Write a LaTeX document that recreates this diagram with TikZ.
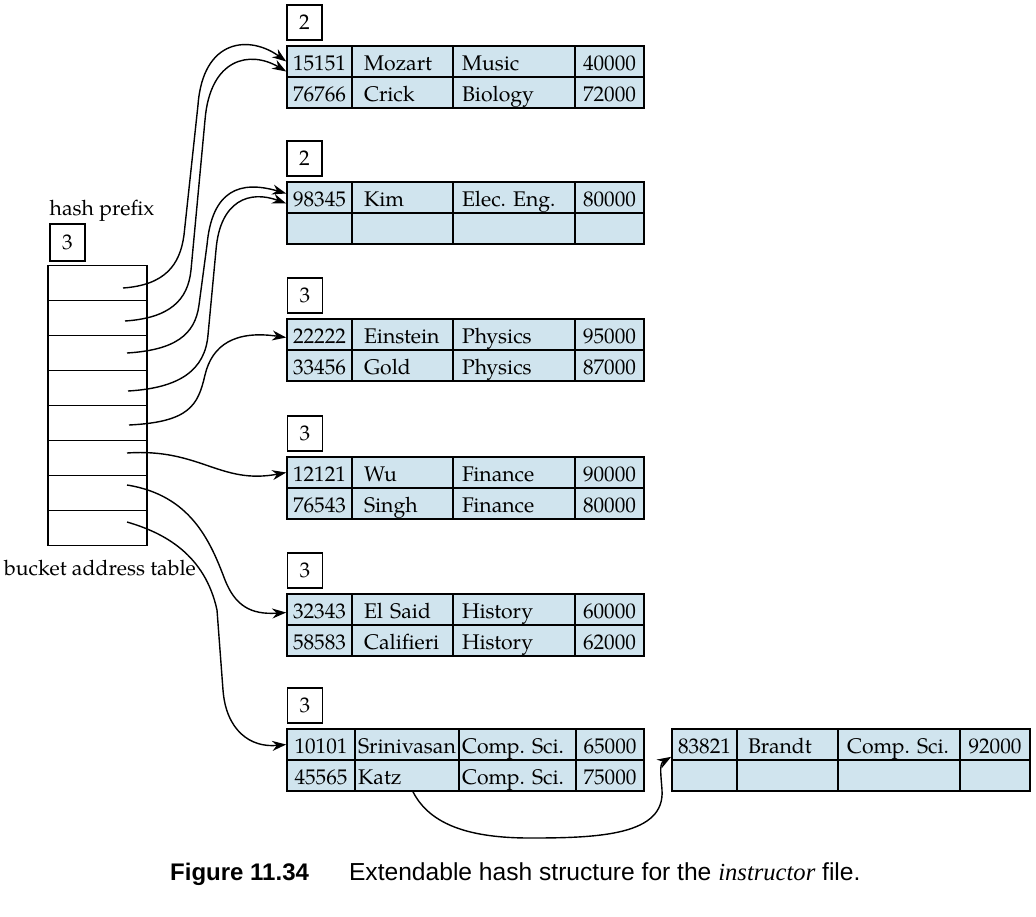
\documentclass[tikz,border=0pt]{standalone}
\usepackage{fontspec}
\setmainfont{TeX Gyre Pagella}
\newfontfamily\capsans{Liberation Sans}
\newfontfamily\capserif{Liberation Serif}
\usetikzlibrary{arrows.meta}
\definecolor{bucketblue}{RGB}{208,228,238}
\frenchspacing

\begin{document}
\begin{tikzpicture}[x=0.5pt, y=-0.5pt, >={Stealth[length=7pt,width=5pt]},
  every node/.style={font=\fontsize{10.6pt}{12pt}\selectfont},
  cell/.style={draw, line width=0.8pt, fill=bucketblue, minimum height=15.5pt, inner ysep=0pt, inner xsep=0pt, text height=9.5pt, text depth=1pt},
  numcell/.style={cell, minimum width=#1},
  txtcell/.style 2 args={cell, text width=#1, inner xsep=#2, align=left},
  depthbox/.style={draw, line width=0.8pt, minimum width=17.5pt, minimum height=17.5pt, inner sep=0pt},
  slot/.style={draw, line width=0.8pt, minimum width=49.5pt, minimum height=17.5pt, inner sep=0pt},
  ptr/.style={->, line width=0.7pt}]
\useasboundingbox (0,0) rectangle (1036,916);

% bucket address table
\node(hashlbl) at (102,211){hash prefix};
\node(prefix)[depthbox, minimum height=18.5pt] at (67.5,242.5){3};
\node(T1)[slot] at (97.5,283){};
\node(T2)[slot] at (97.5,318){};
\node(T3)[slot] at (97.5,353){};
\node(T4)[slot] at (97.5,388){};
\node(T5)[slot] at (97.5,423){};
\node(T6)[slot] at (97.5,458){};
\node(T7)[slot] at (97.5,493){};
\node(T8)[slot] at (97.5,528){};
\node(tbllbl) at (100,568){bucket address table};

\coordinate(p1) at (123,288);
\coordinate(p2) at (125,321);
\coordinate(p3) at (127,353);
\coordinate(p4) at (128,391);
\coordinate(p5) at (129,425);
\coordinate(p6) at (127,453);
\coordinate(p7) at (127,485);
\coordinate(p8) at (127,522);

% bucket 1
\node(D1)[depthbox] at (304.5,22.5){2};
\node(B1a)[numcell=32.5pt] at (319.5,61.5){15151};
\node(B1b)[txtcell={38.5pt}{6pt}] at (402.5,61.5){Mozart};
\node(B1c)[txtcell={52pt}{4.5pt}] at (514,61.5){Music};
\node(B1d)[numcell=34.5pt] at (609.5,61.5){40000};
\node(B1e)[numcell=32.5pt] at (319.5,92.5){76766};
\node(B1f)[txtcell={38.5pt}{6pt}] at (402.5,92.5){Crick};
\node(B1g)[txtcell={52pt}{4.5pt}] at (514,92.5){Biology};
\node(B1h)[numcell=34.5pt] at (609.5,92.5){72000};

% bucket 2
\node(D2)[depthbox] at (304.5,158.5){2};
\node(B2a)[numcell=32.5pt] at (319.5,197.5){98345};
\node(B2b)[txtcell={38.5pt}{6pt}] at (402.5,197.5){Kim};
\node(B2c)[txtcell={52pt}{4.5pt}] at (514,197.5){Elec. Eng.};
\node(B2d)[numcell=34.5pt] at (609.5,197.5){80000};
\node(B2e)[numcell=32.5pt] at (319.5,228.5){};
\node(B2f)[txtcell={38.5pt}{6pt}] at (402.5,228.5){};
\node(B2g)[txtcell={52pt}{4.5pt}] at (514,228.5){};
\node(B2h)[numcell=34.5pt] at (609.5,228.5){};

% bucket 3
\node(D3)[depthbox] at (305,295.5){3};
\node(B3a)[numcell=32.5pt] at (319.5,334.5){22222};
\node(B3b)[txtcell={38.5pt}{6pt}] at (402.5,334.5){Einstein};
\node(B3c)[txtcell={52pt}{4.5pt}] at (514,334.5){Physics};
\node(B3d)[numcell=34.5pt] at (609.5,334.5){95000};
\node(B3e)[numcell=32.5pt] at (319.5,365.5){33456};
\node(B3f)[txtcell={38.5pt}{6pt}] at (402.5,365.5){Gold};
\node(B3g)[txtcell={52pt}{4.5pt}] at (514,365.5){Physics};
\node(B3h)[numcell=34.5pt] at (609.5,365.5){87000};

% bucket 4
\node(D4)[depthbox] at (305,433.5){3};
\node(B4a)[numcell=32.5pt] at (319.5,472.5){12121};
\node(B4b)[txtcell={38.5pt}{6pt}] at (402.5,472.5){Wu};
\node(B4c)[txtcell={52pt}{4.5pt}] at (514,472.5){Finance};
\node(B4d)[numcell=34.5pt] at (609.5,472.5){90000};
\node(B4e)[numcell=32.5pt] at (319.5,503.5){76543};
\node(B4f)[txtcell={38.5pt}{6pt}] at (402.5,503.5){Singh};
\node(B4g)[txtcell={52pt}{4.5pt}] at (514,503.5){Finance};
\node(B4h)[numcell=34.5pt] at (609.5,503.5){80000};

% bucket 5
\node(D5)[depthbox] at (305,570.5){3};
\node(B5a)[numcell=32.5pt] at (319.5,609.5){32343};
\node(B5b)[txtcell={38.5pt}{6pt}] at (402.5,609.5){El Said};
\node(B5c)[txtcell={52pt}{4.5pt}] at (514,609.5){History};
\node(B5d)[numcell=34.5pt] at (609.5,609.5){60000};
\node(B5e)[numcell=32.5pt] at (319.5,640.5){58583};
\node(B5f)[txtcell={38.5pt}{6pt}] at (402.5,640.5){Califieri};
\node(B5g)[txtcell={52pt}{4.5pt}] at (514,640.5){History};
\node(B5h)[numcell=34.5pt] at (609.5,640.5){62000};

% bucket 6 and its overflow bucket
\node(D6)[depthbox] at (305,705.5){3};
\node(B6a)[numcell=34pt] at (321,744.5){10101};
\node(B6b)[txtcell={49pt}{1.5pt}] at (407,744.5){Srinivasan};
\node(B6c)[txtcell={55.5pt}{1.5pt}] at (517.5,744.5){Comp. Sci.};
\node(B6d)[numcell=34pt] at (610,744.5){65000};
\node(B6e)[numcell=34pt] at (321,775.5){45565};
\node(B6f)[txtcell={49pt}{1.5pt}] at (407,775.5){Katz};
\node(B6g)[txtcell={55.5pt}{1.5pt}] at (517.5,775.5){Comp. Sci.};
\node(B6h)[numcell=34pt] at (610,775.5){75000};

\node(OVa)[numcell=32.5pt] at (704.5,744.5){83821};
\node(OVb)[txtcell={39.5pt}{5.5pt}] at (787.5,744.5){Brandt};
\node(OVc)[txtcell={52pt}{4.5pt}] at (899,744.5){Comp. Sci.};
\node(OVd)[numcell=35pt] at (995,744.5){92000};
\node(OVe)[numcell=32.5pt] at (704.5,775.5){};
\node(OVf)[txtcell={39.5pt}{5.5pt}] at (787.5,775.5){};
\node(OVg)[txtcell={52pt}{4.5pt}] at (899,775.5){};
\node(OVh)[numcell=35pt] at (995,775.5){};

% pointers
\draw[ptr] (p1) .. controls (165,285) and (180,265) .. (184,235) -- (198,105) .. controls (203,38) and (250,35) .. (B1a.west);
\draw[ptr] (p2) .. controls (170,318) and (188,300) .. (191,270) -- (205,120) .. controls (210,58) and (250,50) .. ([yshift=-5pt]B1a.west);
\draw[ptr] (p3) .. controls (175,350) and (195,335) .. (199,305) -- (207,245) .. controls (212,190) and (240,180) .. ([yshift=2pt]B2a.west);
\draw[ptr] (p4) .. controls (180,388) and (205,370) .. (208,335) -- (216,250) .. controls (220,200) and (250,190) .. ([yshift=-3pt]B2a.west);
\draw[ptr] (p5) .. controls (190,422) and (198,405) .. (205,375) .. controls (212,345) and (235,330) .. ([yshift=-1.5pt]B3a.west);
\draw[ptr] (p6) .. controls (200,448) and (220,485) .. (B4a.west);
\draw[ptr] (p7) .. controls (190,495) and (210,540) .. (225,580) .. controls (235,605) and (250,615) .. ([yshift=-1.5pt]B5a.west);
\draw[ptr] (p8) .. controls (165,533) and (205,555) .. (217,610) -- (223,690) .. controls (226,730) and (250,748) .. (B6a.west);
\draw[ptr] ([xshift=3pt]B6f.south) .. controls (430,825) and (470,838) .. (530,838) .. controls (600,838) and (665,835) .. (662,790) .. controls (661,775) and (659,764) .. ([yshift=2pt]OVa.south west);

% caption
\node(figno)[anchor=base east, font=\capsans\bfseries\fontsize{12pt}{14pt}\selectfont] at (316,880){Figure 11.34};
\node(figcap)[anchor=base west, font=\capsans\fontsize{12.3pt}{14pt}\selectfont] at (342,880){Extendable hash structure for the {\capserif\itshape instructor} file.};
\end{tikzpicture}
\end{document}
